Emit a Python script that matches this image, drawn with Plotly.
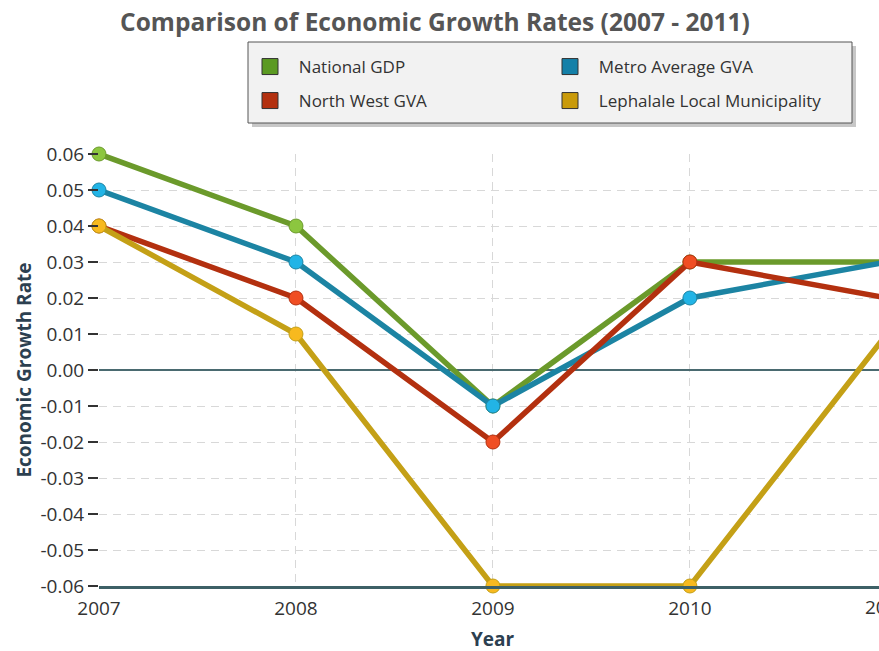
import plotly.graph_objects as go

years = [2007, 2008, 2009, 2010, 2011]
national_gdp = [0.06, 0.04, -0.01, 0.03, 0.03]
metro_gva = [0.05, 0.03, -0.01, 0.02, 0.03]
north_west_gva = [0.04, 0.02, -0.02, 0.03, 0.02]
lephalale = [0.04, 0.01, -0.06, -0.06, 0.01]
y_ticks = [-0.06, -0.05, -0.04, -0.03, -0.02, -0.01, 0.0, 0.01, 0.02, 0.03, 0.04, 0.05, 0.06]
x_range = [2007, 2010.96]

series = [
    ("National GDP", national_gdp, "#6b9a2b", "#8cc63f", "#5b9a22", "legend"),
    ("Metro Average GVA", metro_gva, "#1c84a3", "#22b4e6", "#1480a8", "legend"),
    ("North West GVA", north_west_gva, "#b3300f", "#f04e23", "#b3300f", "legend2"),
    ("Lephalale Local Municipality", lephalale, "#c4a016", "#f7b91f", "#c99a0a", "legend2"),
]

fig = go.Figure()
for name, vals, lc, mc, legc, lg in series:
    fig.add_trace(go.Scatter(
        x=years, y=vals, mode="lines+markers", name=name, showlegend=False,
        line=dict(color=lc, width=5.5),
        marker=dict(size=14, color=mc, line=dict(color=lc, width=1)),
        cliponaxis=False,
    ))
for name, vals, lc, mc, legc, lg in series:
    fig.add_trace(go.Scatter(
        x=[None], y=[None], mode="markers", name="\u00a0\u00a0" + name, showlegend=True,
        legend=lg,
        marker=dict(symbol="square", size=18, color=legc, line=dict(color="#333333", width=1)),
    ))

L, R, T, B = 99, 0, 154, 65
W, H = 879, 651
pw = W - L - R
ph = H - T - B


def px_x(p):
    return (p - L) / pw


def px_y(p):
    return (H - B - p) / ph


lx0, lx1, ly0, ly1 = 248, 852, 42, 123
# legend shadow and box
fig.add_shape(type="rect", xref="paper", yref="paper",
              x0=px_x(lx0 + 4), x1=px_x(lx1 + 4), y0=px_y(ly1 + 4), y1=px_y(ly0 + 4),
              fillcolor="rgba(0,0,0,0.22)", line=dict(width=0), layer="above")
fig.add_shape(type="rect", xref="paper", yref="paper",
              x0=px_x(lx0), x1=px_x(lx1), y0=px_y(ly1), y1=px_y(ly0),
              fillcolor="#f2f2f2", line=dict(color="#555555", width=1), layer="above")

leg_common = dict(orientation="h", xanchor="left", yanchor="middle",
                  bgcolor="rgba(0,0,0,0)", borderwidth=0,
                  font=dict(family="Open Sans", size=17, color="#333333"),
                  entrywidth=255, itemclick=False, itemdoubleclick=False)

fig.update_layout(
    width=W, height=H,
    margin=dict(l=L, r=R, t=T, b=B, autoexpand=False),
    paper_bgcolor="white", plot_bgcolor="white",
    title=dict(text="<b>Comparison of Economic Growth Rates (2007 - 2011)</b>",
               x=px_x(435), xref="paper", xanchor="center",
               y=1 - 22 / H, yref="container", yanchor="middle",
               font=dict(family="Open Sans", size=24.5, color="#555555")),
    legend=dict(x=px_x(250), y=px_y(67), **leg_common),
    legend2=dict(x=px_x(250), y=px_y(101), **leg_common),
    showlegend=True,
    font=dict(family="Open Sans", color="#333333"),
)

fig.update_xaxes(
    range=x_range, tickvals=years[:4], ticktext=[str(y) for y in years[:4]],
    tickfont=dict(size=19, color="#333333"),
    showgrid=True, gridcolor="#d8d8d8", griddash="8px,6px", gridwidth=1,
    showline=True, linecolor="#3d6066", linewidth=3,
    ticks="", ticklabelstandoff=3,
    zeroline=False,
)
fig.update_yaxes(
    range=[-0.06, 0.06], tickvals=y_ticks, ticktext=[f"{v:.2f}" for v in y_ticks],
    tickfont=dict(size=19, color="#333333"),
    showgrid=True, gridcolor="#d8d8d8", griddash="8px,6px", gridwidth=1,
    showline=False, ticks="outside", ticklen=10, tickcolor="#333333", tickwidth=2,
    zeroline=True, zerolinecolor="#4a6a70", zerolinewidth=1.5,
    title=dict(text="<b>Economic Growth Rate</b>", font=dict(family="Open Sans", size=19, color="#2c4050"), standoff=3),
)

# x-axis title placed as annotation below the tick labels
fig.add_annotation(text="<b>Year</b>", xref="paper", yref="paper",
                   x=px_x(493), y=0, xanchor="center", yanchor="middle", yshift=-53,
                   showarrow=False, font=dict(family="Open Sans", size=19, color="#2c4050"))

fig.add_annotation(text=str(years[4]), xref="paper", yref="paper",
                   x=(years[4] - x_range[0]) / (x_range[1] - x_range[0]), y=0,
                   xanchor="center", yanchor="top", yshift=-6, showarrow=False,
                   font=dict(family="Open Sans", size=19, color="#333333"))

fig.write_html("out.html")
